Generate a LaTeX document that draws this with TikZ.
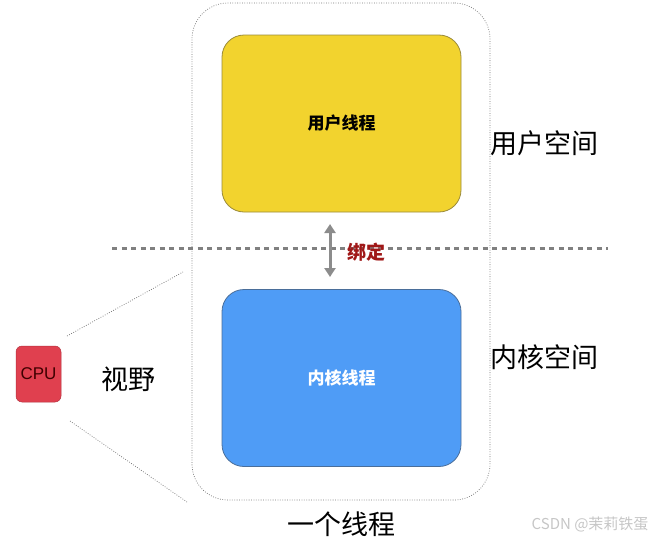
\documentclass[tikz,border=0pt]{standalone}
\usepackage{fontspec}
\setmainfont{Noto Sans CJK SC}
\setsansfont{Liberation Sans}
\usetikzlibrary{arrows.meta}
\definecolor{yel}{HTML}{F2D32E}
\definecolor{yelb}{HTML}{9A8A3A}
\definecolor{blu}{HTML}{4F9CF6}
\definecolor{blub}{HTML}{4A6E9A}
\definecolor{cpured}{HTML}{E0404F}
\definecolor{dred}{HTML}{A01818}
\tikzset{
  thread/.style={rounded corners=22pt, minimum width=239pt, minimum height=177pt, line width=0.8pt},
  dotline/.style={black!55, line width=0.7pt, dash pattern=on 0.8pt off 1.6pt},
  bigtxt/.style={font=\fontsize{27}{29}\selectfont},
}
\begin{document}
\begin{tikzpicture}[x=1pt,y=-1pt]
\useasboundingbox (0,0) rectangle (655,541);
% outer thread container
\node[draw, dotline, rounded corners=36pt, minimum width=298pt, minimum height=497pt] (outer) at (341,251.5) {};
% user thread
\node[thread, fill=yel, draw=yelb] (ut) at (341.5,123.5) {\fontsize{17}{19}\selectfont\bfseries 用户线程};
% kernel thread
\node[thread, fill=blu, draw=blub, text=white] (kt) at (341.5,378) {\fontsize{17}{19}\selectfont\bfseries 内核线程};
% dashed divider
\coordinate (dl) at (112,248);
\coordinate (dr) at (608,248);
\draw[black!50, line width=3pt, dash pattern=on 5pt off 4.5pt] (dl) -- (dr);
% binding arrow
\coordinate (bt) at (330,224);
\coordinate (bb) at (330,277);
\draw[{Triangle[length=9pt,width=11pt]}-{Triangle[length=9pt,width=11pt]}, color=gray!90, line width=3pt] (bt) -- (bb);
\node[text=dred, font=\fontsize{19}{21}\selectfont\bfseries] (bind) at (366,252) {绑定};
% labels
\node[bigtxt] (us) at (544,143) {用户空间};
\node[bigtxt] (ks) at (544,357) {内核空间};
\node[bigtxt] (one) at (341,524) {一个线程};
% CPU
\node[fill=cpured, draw=cpured!80!black, line width=0.5pt, rounded corners=6pt, minimum width=45pt, minimum height=56pt, text=black!75!red, font=\sffamily\fontsize{17}{19}\selectfont] (cpu) at (38.5,374) {CPU};
\node[font=\fontsize{27}{29}\selectfont] (view) at (128,379) {视野};
\coordinate (v1a) at (67,336);
\coordinate (v1b) at (183,272);
\coordinate (v2a) at (70,421);
\coordinate (v2b) at (187,502);
\draw[dotline] (v1a) -- (v1b);
\draw[dotline] (v2a) -- (v2b);
% watermark
\node[text=gray!45, font=\fontsize{15}{17}\selectfont, anchor=east] (wm) at (652,524) {CSDN @茉莉铁蛋};
\end{tikzpicture}
\end{document}
